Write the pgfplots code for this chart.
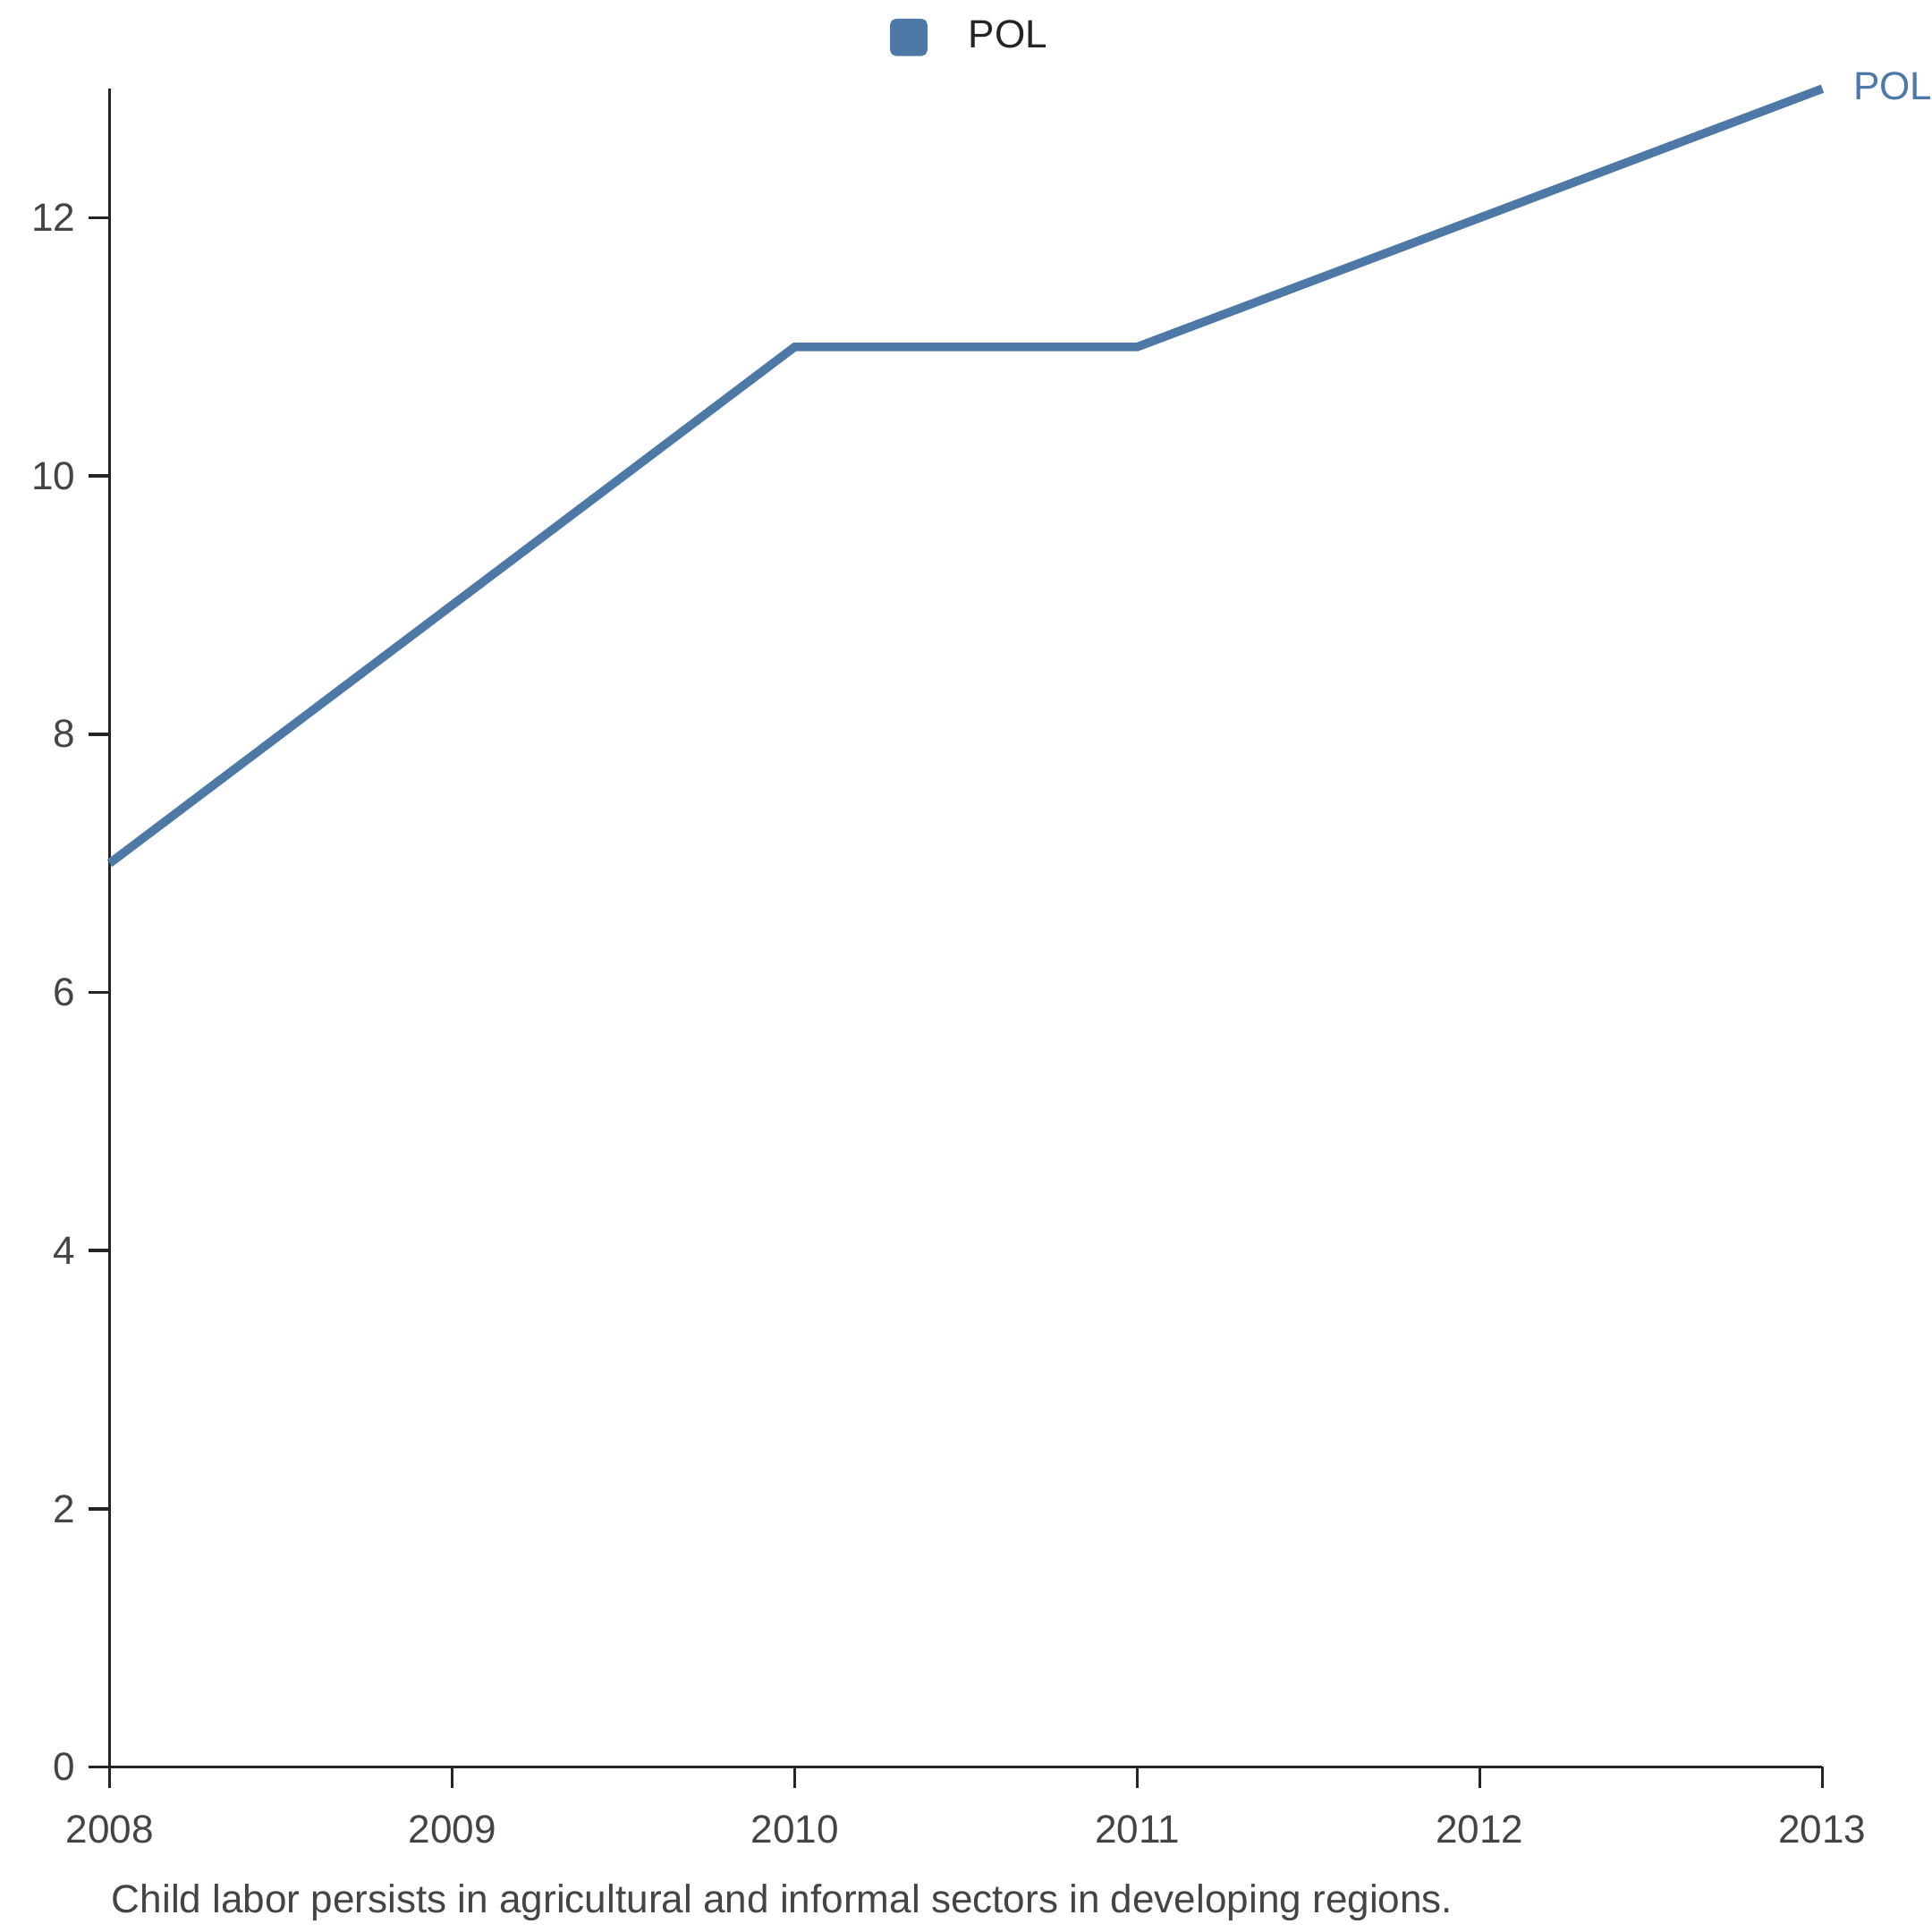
\documentclass[border=0pt]{standalone}
\usepackage{pgfplots}
\pgfplotsset{compat=1.18}
\usepackage{fontspec}
\setmainfont{Liberation Sans}
\definecolor{pol}{HTML}{4E79A7}
\definecolor{axc}{HTML}{222428}
\definecolor{tlc}{HTML}{444444}
\begin{document}
\begin{tikzpicture}
\path[use as bounding box] (0,0) rectangle (470.4pt,-470.4pt);
\begin{axis}[
  at={(26.7pt,-430.2pt)}, anchor=south west,
  scale only axis, width=417pt, height=408.6pt,
  xmin=2008, xmax=2013, ymin=0, ymax=13,
  axis x line*=bottom, axis y line*=left,
  axis line style={axc, line width=0.8pt},
  every tick/.style={axc, line width=0.8pt},
  tick align=outside, major tick length=5.1pt,
  xtick={2008,2009,2010,2011,2012,2013},
  ytick={0,2,4,6,8,10,12},
  /pgf/number format/assume math mode=true,
  /pgf/number format/1000 sep={},
  ticklabel style={font=\fontsize{9.6}{11}\selectfont, text=tlc},
  xticklabel style={yshift=-3.1pt},
  yticklabel style={xshift=0.3pt},
  legend style={at={(0.504,1)}, anchor=south, yshift=4.2pt, draw=none, fill=none,
    font=\fontsize{9.6}{11}\selectfont, text=axc, legend cell align=left},
  legend image code/.code={\fill[pol, rounded corners=0.6pt] (1.3pt,-3.5pt) rectangle (8.3pt,3.5pt);},
  clip=false,
]
\addplot[pol, line width=2.1pt] coordinates {(2008,7) (2009,9) (2010,11) (2011,11) (2012,12) (2013,13)};
\addlegendentry{\hspace{8pt}POL}
\node[anchor=west, text=pol, font=\fontsize{9.6}{11}\selectfont, xshift=4pt, yshift=0.6pt] at (axis cs:2013,13) {POL};
\end{axis}
\node[anchor=west, text=tlc, font=\fontsize{9.6}{11}\selectfont, inner sep=0pt] at (27pt,-463.2pt) {Child labor persists in agricultural and informal sectors in developing regions.};
\end{tikzpicture}
\end{document}
